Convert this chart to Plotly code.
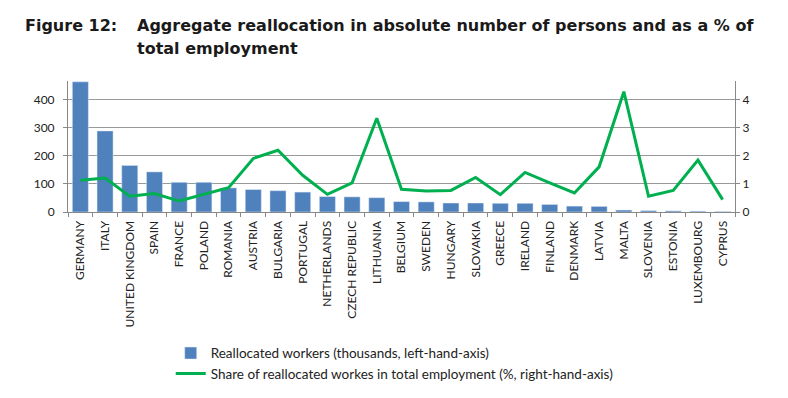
import plotly.graph_objects as go

countries = ["GERMANY", "ITALY", "UNITED KINGDOM", "SPAIN", "FRANCE", "POLAND", "ROMANIA",
             "AUSTRIA", "BULGARIA", "PORTUGAL", "NETHERLANDS", "CZECH REPUBLIC", "LITHUANIA",
             "BELGIUM", "SWEDEN", "HUNGARY", "SLOVAKIA", "GREECE", "IRELAND", "FINLAND",
             "DENMARK", "LATVIA", "MALTA", "SLOVENIA", "ESTONIA", "LUXEMBOURG", "CYPRUS"]
workers = [464, 289, 166, 143, 106, 106, 86, 80, 76, 71, 55, 54, 51,
           37, 36, 32, 32, 31, 31, 27, 21, 20, 7, 5, 4, 3, 2]
share = [1.13, 1.21, 0.56, 0.66, 0.39, 0.64, 0.87, 1.91, 2.20, 1.31, 0.63, 1.04, 3.34,
         0.81, 0.75, 0.77, 1.23, 0.62, 1.41, 1.04, 0.68, 1.61, 4.29, 0.56, 0.77, 1.85, 0.44]
left_ticks = [0, 100, 200, 300, 400]
right_ticks = [0, 1, 2, 3, 4]

bar_name = "Reallocated workers (thousands, left-hand-axis)"
line_name = "Share of reallocated workes in total employment (%, right-hand-axis)"
title_label = "Figure 12:"
title_line1 = "Aggregate reallocation in absolute number of persons and as a % of"
title_line2 = "total employment"

fig = go.Figure()
fig.add_trace(go.Bar(x=countries, y=workers, name=bar_name, marker_color="#4F81BD",
                     yaxis="y"))
fig.add_trace(go.Scatter(x=countries, y=share, name=line_name, mode="lines",
                         line=dict(color="#00B050", width=3), yaxis="y2"))

axis_font = dict(family="Lato, Open Sans, sans-serif", size=12, color="#222")
fig.update_layout(
    width=788, height=398,
    margin=dict(l=68, r=53, t=81, b=186, autoexpand=False),
    paper_bgcolor="white", plot_bgcolor="white",
    bargap=0.35,
    showlegend=True,
    legend=dict(x=0.154, y=-0.96, xanchor="left", yanchor="top",
                font=dict(family="Lato, Open Sans, sans-serif", size=13.5, color="#222"),
                itemwidth=30, bgcolor="rgba(0,0,0,0)"),
    xaxis=dict(type="category", tickangle=-90, tickfont=axis_font, automargin=False,
               showline=True, linecolor="#888", linewidth=1, ticklabelstandoff=3,
               ticks="outside", ticklen=4, tickcolor="#888", tickson="boundaries",
               showgrid=False),
    yaxis=dict(range=[0, 467], tickvals=left_ticks, tickfont=axis_font, automargin=False,
               showline=True, linecolor="#888", linewidth=1, ticklabelstandoff=6,
               ticks="outside", ticklen=4, tickcolor="#888",
               showgrid=True, gridcolor="#999999", gridwidth=1, zeroline=False),
    yaxis2=dict(range=[0, 4.67], tickvals=right_ticks, tickfont=axis_font, automargin=False,
                overlaying="y", side="right",
                showline=True, linecolor="#888", linewidth=1,
                ticks="outside", ticklen=4, tickcolor="#888",
                showgrid=False, zeroline=False),
)

title_font = dict(family="DejaVu Sans, Verdana, sans-serif", size=16, color="#1a1a1a")
fig.add_annotation(text="<b>" + title_label + "</b>", xref="paper", yref="paper",
                   x=-0.0675, y=1.421, xanchor="left", yanchor="middle",
                   showarrow=False, font=title_font)
fig.add_annotation(text="<b>" + title_line1 + "</b>",
                   xref="paper", yref="paper", align="left",
                   x=0.1005, y=1.421, xanchor="left", yanchor="middle",
                   showarrow=False, font=title_font)
fig.add_annotation(text="<b>" + title_line2 + "</b>",
                   xref="paper", yref="paper", align="left",
                   x=0.1005, y=1.251, xanchor="left", yanchor="middle",
                   showarrow=False, font=title_font)

fig.write_html("out.html", config={"displayModeBar": False},
               post_script="document.body.style.margin='0';")
